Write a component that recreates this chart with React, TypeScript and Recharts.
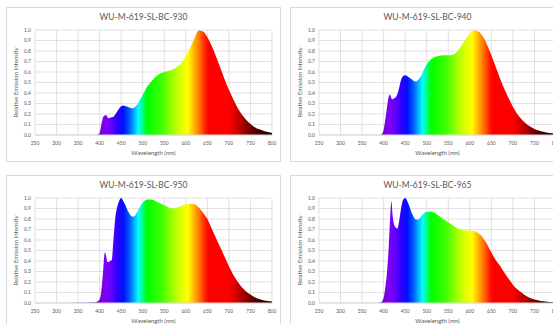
import React from 'react';
import { AreaChart, Area, XAxis, YAxis, CartesianGrid } from 'recharts';

// Wavelength grid (nm)
const wavelengths = [
  250, 300, 350, 380, 390, 395, 400, 404, 408, 412, 415, 418, 421, 424, 428, 432, 436, 440,
  445, 450, 455, 460, 465, 470, 475, 480, 485, 490, 495, 500, 510, 520, 530, 540, 550, 560,
  570, 580, 590, 600, 610, 620, 630, 640, 650, 660, 670, 680, 690, 700, 710, 720, 730, 740,
  750, 760, 770, 780, 790, 800,
];

// Relative emission intensity for each model
const cct930 = [
  0, 0, 0, 0, 0, 0.003, 0.02, 0.1, 0.17, 0.185, 0.19, 0.17, 0.16, 0.165, 0.17, 0.175, 0.195, 0.22,
  0.25, 0.275, 0.28, 0.275, 0.27, 0.26, 0.255, 0.26, 0.28, 0.31, 0.345, 0.38, 0.46, 0.51, 0.555, 0.585, 0.6, 0.61,
  0.625, 0.65, 0.685, 0.75, 0.83, 0.92, 0.995, 0.985, 0.93, 0.85, 0.75, 0.64, 0.53, 0.43, 0.34, 0.26, 0.195, 0.145,
  0.105, 0.075, 0.055, 0.04, 0.028, 0.02,
];

const cct940 = [
  0, 0, 0, 0, 0, 0.005, 0.05, 0.15, 0.27, 0.37, 0.385, 0.35, 0.34, 0.35, 0.36, 0.39, 0.45, 0.52,
  0.56, 0.57, 0.56, 0.545, 0.53, 0.515, 0.51, 0.525, 0.55, 0.59, 0.635, 0.675, 0.72, 0.745, 0.755, 0.76, 0.76, 0.765,
  0.79, 0.85, 0.91, 0.965, 0.995, 0.985, 0.94, 0.86, 0.76, 0.65, 0.54, 0.44, 0.35, 0.27, 0.2, 0.15, 0.11, 0.08,
  0.058, 0.042, 0.03, 0.022, 0.016, 0.012,
];

const cct950 = [
  0, 0, 0.002, 0.005, 0.008, 0.015, 0.035, 0.12, 0.3, 0.48, 0.45, 0.39, 0.39, 0.4, 0.41, 0.6, 0.8, 0.9,
  0.97, 1.0, 0.97, 0.93, 0.88, 0.845, 0.825, 0.825, 0.85, 0.89, 0.925, 0.955, 0.985, 0.985, 0.97, 0.95, 0.93, 0.91,
  0.9, 0.91, 0.925, 0.94, 0.945, 0.94, 0.91, 0.86, 0.8, 0.71, 0.62, 0.53, 0.44, 0.35, 0.27, 0.205, 0.15, 0.11,
  0.08, 0.055, 0.038, 0.027, 0.019, 0.014,
];

const cct965 = [
  0, 0, 0, 0, 0.003, 0.01, 0.05, 0.15, 0.3, 0.55, 0.8, 0.97, 0.83, 0.75, 0.72, 0.71, 0.78, 0.89,
  0.98, 1.0, 0.97, 0.92, 0.86, 0.82, 0.795, 0.795, 0.815, 0.84, 0.86, 0.868, 0.87, 0.855, 0.825, 0.795, 0.77, 0.74,
  0.715, 0.7, 0.69, 0.69, 0.685, 0.665, 0.625, 0.56, 0.48, 0.41, 0.355, 0.29, 0.23, 0.175, 0.13, 0.1, 0.07, 0.048,
  0.033, 0.024, 0.017, 0.012, 0.008, 0.006,
];

const titles = ['WU-M-619-SL-BC-930', 'WU-M-619-SL-BC-940', 'WU-M-619-SL-BC-950', 'WU-M-619-SL-BC-965'];
const xTicks = [250, 300, 350, 400, 450, 500, 550, 600, 650, 700, 750, 800];
const yTicks = [0, 0.1, 0.2, 0.3, 0.4, 0.5, 0.6, 0.7, 0.8, 0.9, 1.0];

// Spectrum colour stops: [wavelength nm, colour]
const spectrumStops: [number, string][] = [
  [250, '#5a0090'],
  [390, '#6400a8'],
  [410, '#8000f0'],
  [425, '#6a00ff'],
  [440, '#3000ff'],
  [455, '#0010ff'],
  [470, '#0060ff'],
  [480, '#00b0ff'],
  [490, '#00ffff'],
  [500, '#00ff80'],
  [510, '#00ff00'],
  [545, '#40ff00'],
  [570, '#a0ff00'],
  [590, '#e0ff00'],
  [605, '#ffff00'],
  [620, '#ffb000'],
  [635, '#ff6000'],
  [648, '#ff1000'],
  [655, '#ff0000'],
  [700, '#ff0000'],
  [725, '#c00000'],
  [750, '#700000'],
  [775, '#300000'],
  [800, '#100000'],
];

const series = [cct930, cct940, cct950, cct965];
const TEXT = '#595959';
const GRID = '#d9d9d9';
const W = 275;
const H = 155;
const positions = [
  { left: 6, top: 7 },
  { left: 290, top: 7 },
  { left: 6, top: 175 },
  { left: 290, top: 175 },
];

function Panel({ idx }: { idx: number }) {
  const data = wavelengths.map((nm, i) => ({ nm, v: series[idx][i] }));
  const gid = `spec-${idx}`;
  const pos = positions[idx];
  return (
    <div style={{ position: 'absolute', left: pos.left, top: pos.top, width: W, height: H }}>
      <div
        style={{
          position: 'absolute', left: 0, top: 0, width: W, height: H, boxSizing: 'border-box',
          border: `1px solid ${GRID}`, pointerEvents: 'none',
        }}
      />
      <div
        style={{
          position: 'absolute', left: 0, top: 4, width: W, textAlign: 'center',
          fontSize: 8.5, color: TEXT, lineHeight: '12px',
        }}
      >
        {titles[idx]}
      </div>
      <div style={{ position: 'absolute', left: 0, top: 0 }}>
        <AreaChart width={W} height={H} data={data} margin={{ top: 23, right: 9, left: 0, bottom: 0 }}>
          <defs>
            <linearGradient id={gid} x1="0" y1="0" x2="1" y2="0">
              {spectrumStops.map(([nm, c]) => (
                <stop key={nm} offset={(nm - 250) / 550} stopColor={c} />
              ))}
            </linearGradient>
          </defs>
          <CartesianGrid stroke={GRID} strokeWidth={0.8} />
          <XAxis
            dataKey="nm"
            type="number"
            domain={[250, 800]}
            ticks={xTicks}
            height={27}
            tickLine={false}
            axisLine={{ stroke: GRID }}
            tickSize={4}
            tickMargin={2}
            tick={{ fontSize: 5, fill: TEXT }}
            interval={0}
            label={{ value: 'Wavelength (nm)', position: 'insideBottom', offset: 7, fontSize: 6, fill: TEXT }}
          />
          <YAxis
            type="number"
            domain={[0, 1]}
            ticks={yTicks}
            width={29}
            tickLine={false}
            axisLine={false}
            tickSize={2}
            tickMargin={2}
            tick={{ fontSize: 5, fill: TEXT }}
            tickFormatter={(v: number) => v.toFixed(1)}
            interval={0}
            label={{
              value: 'Relative Emission Intensity', angle: -90, position: 'insideLeft', offset: 10,
              fontSize: 6, fill: TEXT, style: { textAnchor: 'middle' },
            }}
          />
          <Area
            dataKey="v"
            type="monotone"
            stroke="none"
            fill={`url(#${gid})`}
            fillOpacity={1}
            isAnimationActive={false}
            dot={false}
            activeDot={false}
          />
        </AreaChart>
      </div>
    </div>
  );
}

export default function App() {
  return (
    <div
      style={{
        position: 'absolute', left: 0, top: 0, width: 553, height: 324, overflow: 'hidden',
        background: '#ffffff', fontFamily: 'Lato, "Open Sans", sans-serif',
      }}
    >
      {[0, 1, 2, 3].map((i) => (
        <Panel key={i} idx={i} />
      ))}
    </div>
  );
}
